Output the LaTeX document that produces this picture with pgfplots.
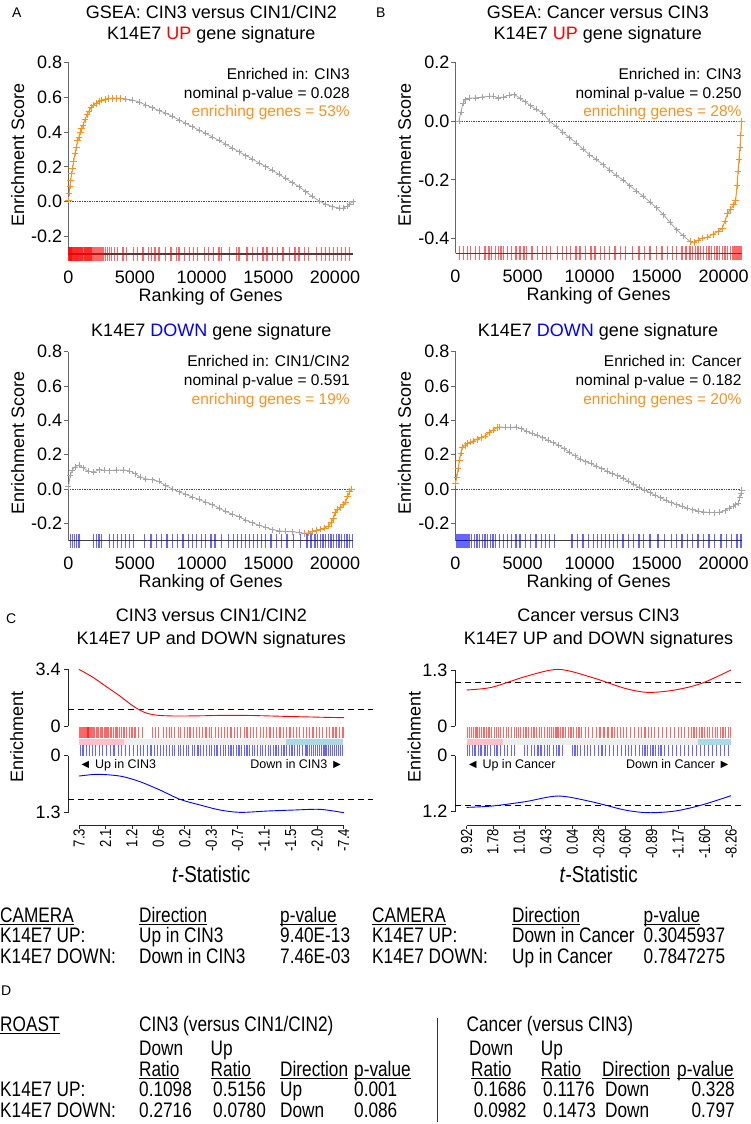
\documentclass[border=0pt]{standalone}
\usepackage{pgfplots}
\usepackage{pgfplotstable}
\pgfplotsset{compat=1.18}
\usepackage{fontspec}
\setmainfont{Liberation Sans}
\newfontfamily\narrow[FakeStretch=0.82]{Liberation Sans}
\definecolor{gsorange}{RGB}{247,147,30}
\definecolor{gsgray}{RGB}{165,165,165}
\definecolor{upred}{RGB}{255,0,0}
\definecolor{dnblue}{RGB}{0,0,255}
\definecolor{barpink}{RGB}{255,192,203}
\definecolor{barblue}{RGB}{173,216,230}
\definecolor{bargray}{RGB}{238,238,238}
\newcommand\ul[1]{\setbox0\hbox{#1}\rlap{\rule[-2.6pt]{\wd0}{0.9pt}}\box0}

% ---------- barcode positions (gene ranks) ----------
\pgfplotstableread[row sep=\\]{x\\ 0\\ 40\\ 80\\ 120\\ 160\\ 200\\ 240\\ 290\\ 330\\ 380\\ 420\\ 470\\ 520\\ 560\\ 610\\ 660\\ 700\\ 750\\ 800\\ 860\\ 910\\ 960\\ 1020\\ 1080\\ 1140\\ 1200\\ 1260\\ 1330\\ 1400\\ 1470\\ 1540\\ 1620\\ 1700\\ 1790\\ 1880\\ 1970\\ 2070\\ 2180\\ 2290\\ 2400\\ 2520\\ 2650\\ 2780\\ 2920\\ 3080\\ 3250\\ 3450\\ 3700\\ 4100\\ 4350\\ 4900\\ 5200\\ 5600\\ 6000\\ 6250\\ 6500\\ 6800\\ 7300\\ 7700\\ 8100\\ 8300\\ 8700\\ 9100\\ 9400\\ 9700\\ 10200\\ 10500\\ 10900\\ 11300\\ 11500\\ 12100\\ 12600\\ 12800\\ 13400\\ 13800\\ 14200\\ 14600\\ 14900\\ 15300\\ 15700\\ 16100\\ 16600\\ 17000\\ 17300\\ 17700\\ 18000\\ 18600\\ 19000\\ 19300\\ 19600\\ 19900\\ 20200\\ 20500\\ 20800\\ 21100\\}\barAup
\pgfplotstableread[row sep=\\]{x\\ 300\\ 600\\ 900\\ 1100\\ 1500\\ 1800\\ 2200\\ 2500\\ 2700\\ 3000\\ 3200\\ 3400\\ 3600\\ 3900\\ 4200\\ 4500\\ 4800\\ 5100\\ 5300\\ 5700\\ 6100\\ 6500\\ 6800\\ 7100\\ 7600\\ 8000\\ 8300\\ 8600\\ 9000\\ 9300\\ 9700\\ 10100\\ 10400\\ 10800\\ 11100\\ 11500\\ 11900\\ 12300\\ 12700\\ 13200\\ 13700\\ 14100\\ 14500\\ 15000\\ 15400\\ 15800\\ 16200\\ 16500\\ 16900\\ 17200\\ 17500\\ 17700\\ 17900\\ 18100\\ 18300\\ 18500\\ 18700\\ 18900\\ 19100\\ 19300\\ 19500\\ 19700\\ 19900\\ 20100\\ 20300\\ 20500\\ 20700\\ 20800\\ 20900\\ 21000\\ 21100\\ 21200\\ 21300\\}\barBup
\pgfplotstableread[row sep=\\]{x\\ 150\\ 300\\ 450\\ 600\\ 800\\ 1900\\ 2100\\ 2300\\ 2500\\ 3100\\ 3400\\ 3700\\ 4000\\ 4300\\ 4600\\ 4900\\ 5700\\ 6200\\ 6600\\ 7000\\ 7400\\ 7800\\ 8200\\ 8600\\ 9000\\ 9300\\ 9600\\ 10000\\ 10300\\ 10700\\ 11000\\ 11500\\ 12000\\ 12400\\ 12700\\ 13000\\ 13300\\ 13600\\ 13900\\ 14200\\ 14500\\ 14800\\ 15200\\ 15600\\ 16000\\ 16400\\ 16900\\ 17400\\ 17900\\ 18200\\ 18500\\ 18700\\ 18900\\ 19100\\ 19300\\ 19500\\ 19700\\ 19900\\ 20100\\ 20300\\ 20500\\ 20700\\ 20900\\ 21100\\ 21300\\}\barAdown
\pgfplotstableread[row sep=\\]{x\\ 50\\ 150\\ 250\\ 350\\ 450\\ 550\\ 700\\ 850\\ 1000\\ 1200\\ 1400\\ 1600\\ 1800\\ 2000\\ 2200\\ 2400\\ 2600\\ 2800\\ 3000\\ 3300\\ 3600\\ 3900\\ 4200\\ 4500\\ 4800\\ 5200\\ 5600\\ 6000\\ 6400\\ 6700\\ 7000\\ 7400\\ 8700\\ 9100\\ 9500\\ 9900\\ 10300\\ 10600\\ 10900\\ 11200\\ 11500\\ 11800\\ 12100\\ 12500\\ 12900\\ 13300\\ 13700\\ 14000\\ 14500\\ 15100\\ 15600\\ 16100\\ 16500\\ 16900\\ 17300\\ 17700\\ 18100\\ 18500\\ 18900\\ 19300\\ 19800\\ 20200\\ 20600\\ 21000\\ 21300\\}\barBdown
% ---------- barcode positions for panel C (t-statistic rank, 0..10) ----------
\pgfplotstableread[row sep=\\]{x\\ 0.02\\ 0.06\\ 0.1\\ 0.14\\ 0.18\\ 0.22\\ 0.26\\ 0.3\\ 0.34\\ 0.38\\ 0.42\\ 0.46\\ 0.5\\ 0.55\\ 0.6\\ 0.65\\ 0.7\\ 0.75\\ 0.8\\ 0.85\\ 0.9\\ 0.95\\ 1.0\\ 1.06\\ 1.12\\ 1.18\\ 1.24\\ 1.3\\ 1.37\\ 1.44\\ 1.52\\ 1.6\\ 1.7\\ 1.8\\ 1.9\\ 2.0\\ 2.12\\ 2.25\\ 2.4\\ 2.78\\ 2.88\\ 3.0\\ 3.2\\ 3.3\\ 3.42\\ 3.5\\ 3.62\\ 3.75\\ 3.85\\ 3.98\\ 4.1\\ 4.2\\ 4.32\\ 4.45\\ 4.55\\ 4.68\\ 4.8\\ 4.92\\ 5.02\\ 5.15\\ 5.28\\ 5.4\\ 5.5\\ 5.62\\ 5.75\\ 5.88\\ 6.0\\ 6.12\\ 6.25\\ 6.35\\ 6.48\\ 6.6\\ 6.72\\ 6.85\\ 6.98\\ 7.1\\ 7.22\\ 7.35\\ 7.48\\ 7.6\\ 7.72\\ 7.85\\ 7.98\\ 8.1\\ 8.22\\ 8.35\\ 8.48\\ 8.6\\ 8.72\\ 8.85\\ 8.98\\ 9.1\\ 9.22\\ 9.35\\ 9.48\\ 9.6\\ 9.72\\ 9.85\\ 9.98\\}\barCLup
\pgfplotstableread[row sep=\\]{x\\ 0.05\\ 0.15\\ 0.28\\ 0.4\\ 0.52\\ 0.62\\ 0.78\\ 0.9\\ 1.05\\ 1.18\\ 1.32\\ 1.48\\ 1.6\\ 1.75\\ 1.92\\ 2.05\\ 2.2\\ 2.32\\ 2.45\\ 2.6\\ 2.72\\ 2.85\\ 2.98\\ 3.08\\ 3.2\\ 3.3\\ 3.42\\ 3.52\\ 3.62\\ 3.75\\ 3.85\\ 3.95\\ 4.05\\ 4.15\\ 4.28\\ 4.38\\ 4.5\\ 4.6\\ 4.7\\ 4.82\\ 4.92\\ 5.02\\ 5.12\\ 5.22\\ 5.35\\ 5.45\\ 5.55\\ 5.65\\ 5.75\\ 5.85\\ 5.95\\ 6.05\\ 6.15\\ 6.25\\ 6.35\\ 6.45\\ 6.55\\ 6.65\\ 6.75\\ 6.85\\ 6.95\\ 7.05\\ 7.15\\ 7.25\\ 7.35\\ 7.45\\ 7.55\\ 7.65\\ 7.75\\ 7.85\\ 7.95\\ 8.05\\ 8.15\\ 8.25\\ 8.35\\ 8.45\\ 8.55\\ 8.62\\ 8.7\\ 8.78\\ 8.86\\ 8.94\\ 9.02\\ 9.1\\ 9.18\\ 9.26\\ 9.34\\ 9.42\\ 9.5\\ 9.58\\ 9.66\\ 9.74\\ 9.82\\ 9.9\\ 9.97\\}\barCLdown
\pgfplotstableread[row sep=\\]{x\\ 0.03\\ 0.1\\ 0.18\\ 0.25\\ 0.33\\ 0.4\\ 0.5\\ 0.58\\ 0.66\\ 0.75\\ 0.85\\ 0.95\\ 1.05\\ 1.12\\ 1.2\\ 1.3\\ 1.4\\ 1.5\\ 1.6\\ 1.7\\ 1.8\\ 1.88\\ 1.96\\ 2.05\\ 2.15\\ 2.25\\ 2.35\\ 2.45\\ 2.55\\ 2.65\\ 2.75\\ 2.85\\ 2.95\\ 3.05\\ 3.15\\ 3.22\\ 3.3\\ 3.38\\ 3.46\\ 3.55\\ 3.65\\ 3.75\\ 3.85\\ 3.95\\ 4.05\\ 4.15\\ 4.25\\ 4.35\\ 4.5\\ 4.62\\ 4.75\\ 4.9\\ 5.05\\ 5.2\\ 5.35\\ 5.5\\ 5.6\\ 5.7\\ 5.82\\ 5.95\\ 6.05\\ 6.2\\ 6.35\\ 6.5\\ 6.62\\ 6.75\\ 6.88\\ 7.0\\ 7.12\\ 7.25\\ 7.4\\ 7.55\\ 7.7\\ 7.85\\ 8.0\\ 8.12\\ 8.25\\ 8.38\\ 8.5\\ 8.6\\ 8.7\\ 8.8\\ 8.9\\ 9.0\\ 9.1\\ 9.2\\ 9.3\\ 9.4\\ 9.5\\ 9.6\\ 9.7\\ 9.8\\ 9.9\\ 9.97\\}\barCRup
\pgfplotstableread[row sep=\\]{x\\ 0.03\\ 0.12\\ 0.22\\ 0.32\\ 0.45\\ 0.55\\ 0.7\\ 0.8\\ 0.92\\ 1.05\\ 1.15\\ 1.3\\ 1.45\\ 1.55\\ 1.7\\ 1.82\\ 2.2\\ 2.32\\ 2.45\\ 2.58\\ 2.7\\ 2.82\\ 2.95\\ 3.05\\ 3.15\\ 3.28\\ 3.4\\ 3.5\\ 3.62\\ 4.0\\ 4.1\\ 4.2\\ 4.32\\ 4.45\\ 4.58\\ 4.7\\ 4.85\\ 5.0\\ 5.12\\ 5.25\\ 5.4\\ 5.55\\ 5.7\\ 5.85\\ 6.0\\ 6.12\\ 6.25\\ 6.4\\ 6.55\\ 6.65\\ 6.75\\ 6.85\\ 6.95\\ 7.05\\ 7.15\\ 7.25\\ 7.35\\ 7.5\\ 7.65\\ 7.8\\ 7.95\\ 8.1\\ 8.25\\ 8.4\\ 8.55\\ 8.7\\ 8.85\\ 9.0\\ 9.15\\ 9.3\\ 9.45\\ 9.6\\ 9.75\\ 9.9\\}\barCRdown

\pgfplotsset{
  gsea/.style={
    scale only axis, clip=false, enlargelimits=false, axis on top,
    axis x line=bottom, axis y line=left, separate axis lines,
    x axis line style={-, black!75, line width=1.1pt},
    y axis line style={-, black!60, line width=1pt},
    xmin=0, xmax=21350, scaled x ticks=false, scaled y ticks=false,
    xtick={0,5000,10000,15000,20000}, xticklabels={0,5000,10000,15000,20000},
    xtick style={draw=none},
    tick align=outside, major tick length=4.5pt,
    ytick style={black!60, line width=1pt},
    ticklabel style={font=\fontsize{18}{18}\selectfont},
    xticklabel style={anchor=base, inner sep=0pt, yshift=-24.5pt},
    yticklabel style={anchor=east, inner sep=0pt, xshift=-1.5pt},
    xlabel={Ranking of Genes}, ylabel={Enrichment Score},
    label style={font=\fontsize{18}{18}\selectfont, inner sep=0pt},
    xlabel style={at={(axis description cs:0.5,0)}, anchor=base, yshift=-47pt},
    ylabel style={at={(axis description cs:-0.178,0.517)}, anchor=center},
  },
  gsgrayline/.style={gsgray, line width=0.8pt, mark=+, mark size=3pt, mark options={line width=0.6pt}},
  gsorangeline/.style={gsorange, line width=1pt, mark=+, mark size=3.3pt, mark options={line width=0.7pt}},
  barup/.style={only marks, mark=|, mark size=7pt, mark options={upred, opacity=0.6, line width=1.35pt}},
  bardown/.style={only marks, mark=|, mark size=7pt, mark options={dnblue, opacity=0.6, line width=1.35pt}},
  zeroline/.style={black!70, densely dotted, line width=0.7pt},
  cenr/.style={
    scale only axis, clip=false, enlargelimits=false,
    axis y line=left, axis x line=none, xtick=\empty,
    y axis line style={-, black!85, line width=0.8pt},
    ytick style={black!85, line width=0.8pt},
    tick align=outside, major tick length=4.5pt,
    ticklabel style={font=\fontsize{18}{18}\selectfont},
    yticklabel style={anchor=east, inner sep=0pt, xshift=-3pt},
  },
  cbar/.style={
    scale only axis, clip=false, enlargelimits=false,
    axis x line=bottom, axis y line=none, ytick=\empty,
    xmin=0, xmax=10, ymin=0, ymax=98.7, width=264.5pt, height=98.7pt,
    xtick={0,1,2,3,4,5,6,7,8,9,10},
    x axis line style={-, black!85, line width=0.8pt},
    xtick style={black!85, line width=0.8pt},
    tick align=outside, major tick length=3pt,
    xticklabel style={rotate=90, anchor=east, inner sep=0pt, font=\narrow\fontsize{16}{16}\selectfont},
    xlabel={\textit{t}-Statistic},
    xlabel style={at={(axis description cs:0.5,0)}, anchor=base, inner sep=0pt, yshift=-57pt, font=\narrow\fontsize{23}{23}\selectfont},
  },
  cbarred/.style={only marks, mark=|, mark size=5.3pt, mark options={upred, opacity=0.6, line width=1.2pt}},
  cbarblue/.style={only marks, mark=|, mark size=5.5pt, mark options={dnblue, opacity=0.6, line width=1.2pt}},
  cdash/.style={black, line width=0.8pt, dash pattern=on 6pt off 4pt},
}

\begin{document}
\begin{tikzpicture}
\path[use as bounding box] (0pt,0pt) rectangle (750pt,-1124pt);

% ---------------- panel letters and titles ----------------
\begin{scope}[every node/.style={inner sep=0pt, font=\fontsize{14}{14}\selectfont}]
\node[anchor=base west] at (12pt,-18pt) {A};
\node[anchor=base west] at (376pt,-18pt) {B};
\node[anchor=base west] at (6pt,-623pt) {C};
\node[anchor=base west] at (1pt,-995pt) {D};
\end{scope}
\begin{scope}[every node/.style={inner sep=0pt, anchor=base, font=\fontsize{18}{18}\selectfont}]
\node at (211.3pt,-18.5pt) {GSEA: CIN3 versus CIN1/CIN2};
\node at (211.3pt,-39.4pt) {K14E7 \textcolor{upred}{UP} gene signature};
\node at (597.8pt,-18.5pt) {GSEA: Cancer versus CIN3};
\node at (597.8pt,-39.4pt) {K14E7 \textcolor{upred}{UP} gene signature};
\node at (211.3pt,-336.7pt) {K14E7 \textcolor{dnblue}{DOWN} gene signature};
\node at (598pt,-336.7pt) {K14E7 \textcolor{dnblue}{DOWN} gene signature};
\node at (211.3pt,-621pt) {CIN3 versus CIN1/CIN2};
\node at (211.3pt,-644.3pt) {K14E7 UP and DOWN signatures};
\node at (598.5pt,-621pt) {Cancer versus CIN3};
\node at (598.5pt,-644.3pt) {K14E7 UP and DOWN signatures};
\end{scope}
% ---------------- GSEA annotations ----------------
\begin{scope}[every node/.style={inner sep=0pt, anchor=base east, font=\fontsize{15.5}{15.5}\selectfont}]
\node at (350pt,-80pt) {Enriched in: CIN3};
\node at (350pt,-98.3pt) {nominal p-value = 0.028};
\node[text=gsorange] at (350pt,-116.7pt) {enriching genes = 53\%};
\node at (741.7pt,-80pt) {Enriched in: CIN3};
\node at (741.7pt,-98.3pt) {nominal p-value = 0.250};
\node[text=gsorange] at (741.7pt,-116.7pt) {enriching genes = 28\%};
\node at (350pt,-366pt) {Enriched in: CIN1/CIN2};
\node at (350pt,-385.7pt) {nominal p-value = 0.591};
\node[text=gsorange] at (350pt,-404.7pt) {enriching genes = 19\%};
\node at (741.7pt,-366pt) {Enriched in: Cancer};
\node at (741.7pt,-385.7pt) {nominal p-value = 0.182};
\node[text=gsorange] at (741.7pt,-404.7pt) {enriching genes = 20\%};
\end{scope}

% ================= A top =================
\begin{axis}[gsea, at={(68.3pt,-254pt)}, anchor=south west, width=284.7pt, height=191.7pt,
  ymin=-0.3, ymax=0.8, ytick={-0.2,0,0.2,0.4,0.6,0.8}, yticklabels={-0.2,0.0,0.2,0.4,0.6,0.8}]
\addplot[barup] table[x index=0, y index=0, y expr=-0.3] {\barAup};
\addplot[zeroline] coordinates {(0,0) (21350,0)};
\addplot[gsgrayline] coordinates {(3900,0.594) (4300,0.59) (4800,0.584) (5300,0.572) (5800,0.556) (6300,0.54) (6800,0.523) (7300,0.508) (7800,0.49) (8300,0.47) (8800,0.45) (9300,0.43) (9800,0.412) (10300,0.392) (10800,0.372) (11300,0.352) (11800,0.33) (12300,0.308) (12800,0.287) (13300,0.265) (13800,0.245) (14300,0.223) (14800,0.202) (15300,0.18) (15800,0.157) (16300,0.134) (16800,0.11) (17300,0.087) (17800,0.058) (18300,0.03) (18800,0.005) (19300,-0.015) (19800,-0.028) (20300,-0.036) (20600,-0.038) (20900,-0.025) (21100,-0.012) (21350,0)};
\addplot[gsorangeline] coordinates {(0,0.01) (60,0.05) (120,0.09) (180,0.12) (250,0.16) (320,0.19) (400,0.23) (500,0.28) (600,0.31) (700,0.35) (800,0.37) (900,0.40) (1000,0.42) (1100,0.44) (1250,0.47) (1400,0.50) (1550,0.52) (1700,0.54) (1900,0.555) (2100,0.565) (2300,0.575) (2500,0.583) (2750,0.588) (3000,0.592) (3300,0.594) (3600,0.594) (3900,0.594)};
\end{axis}

% ================= B top =================
\begin{axis}[gsea, at={(455.5pt,-253.3pt)}, anchor=south west, width=286.2pt, height=191pt,
  ymin=-0.45, ymax=0.2, ytick={-0.4,-0.2,0,0.2}, yticklabels={-0.4,-0.2,0.0,0.2}]
\addplot[barup] table[x index=0, y index=0, y expr=-0.45] {\barBup};
\addplot[zeroline] coordinates {(0,0) (21350,0)};
\addplot[gsgrayline] coordinates {(250,0) (400,0.03) (550,0.06) (750,0.073) (1000,0.078) (1500,0.079) (2000,0.082) (2500,0.084) (2800,0.085) (3200,0.079) (3600,0.082) (4000,0.088) (4400,0.09) (4800,0.078) (5200,0.066) (5600,0.052) (6000,0.04) (6500,0.028) (7000,0) (7500,-0.018) (8000,-0.038) (8500,-0.056) (9000,-0.074) (9500,-0.095) (10000,-0.115) (10500,-0.13) (11000,-0.148) (11500,-0.167) (12000,-0.185) (12500,-0.2) (13000,-0.22) (13500,-0.238) (14000,-0.256) (14500,-0.275) (15000,-0.295) (15500,-0.318) (16000,-0.345) (16500,-0.37) (17000,-0.39) (17500,-0.41)};
\addplot[gsorangeline] coordinates {(17500,-0.41) (17800,-0.413) (18100,-0.405) (18400,-0.398) (18800,-0.395) (19200,-0.385) (19600,-0.375) (19900,-0.365) (20100,-0.34) (20300,-0.315) (20500,-0.3) (20750,-0.285) (20900,-0.27) (21000,-0.22) (21080,-0.17) (21150,-0.13) (21220,-0.09) (21280,-0.05) (21350,0)};
\end{axis}

% ================= A bottom =================
\begin{axis}[gsea, at={(68.3pt,-540.7pt)}, anchor=south west, width=284.7pt, height=189pt,
  ymin=-0.3, ymax=0.8, ytick={-0.2,0,0.2,0.4,0.6,0.8}, yticklabels={-0.2,0.0,0.2,0.4,0.6,0.8}]
\addplot[bardown] table[x index=0, y index=0, y expr=-0.3] {\barAdown};
\addplot[zeroline] coordinates {(0,0) (21350,0)};
\addplot[gsgrayline] coordinates {(0,0.015) (150,0.08) (300,0.11) (500,0.13) (800,0.14) (1100,0.125) (1500,0.105) (1900,0.1) (2300,0.113) (2700,0.11) (3100,0.108) (3600,0.112) (4100,0.112) (4600,0.106) (5000,0.09) (5400,0.07) (5800,0.06) (6300,0.055) (6800,0.045) (7300,0.02) (7800,0.002) (8300,-0.015) (8800,-0.03) (9300,-0.045) (9800,-0.06) (10300,-0.075) (10800,-0.09) (11300,-0.11) (11800,-0.13) (12300,-0.145) (12800,-0.16) (13300,-0.18) (13800,-0.195) (14300,-0.21) (14800,-0.222) (15300,-0.235) (15800,-0.243) (16300,-0.246) (16800,-0.248) (17300,-0.252) (17700,-0.257)};
\addplot[gsorangeline] coordinates {(17700,-0.257) (18000,-0.255) (18300,-0.248) (18600,-0.24) (18900,-0.233) (19200,-0.226) (19500,-0.215) (19700,-0.195) (19900,-0.17) (20000,-0.135) (20200,-0.12) (20400,-0.108) (20600,-0.09) (20800,-0.075) (20950,-0.04) (21100,-0.015) (21250,0)};
\end{axis}

% ================= B bottom =================
\begin{axis}[gsea, at={(455.5pt,-540.7pt)}, anchor=south west, width=286.2pt, height=189pt,
  ymin=-0.3, ymax=0.8, ytick={-0.2,0,0.2,0.4,0.6,0.8}, yticklabels={-0.2,0.0,0.2,0.4,0.6,0.8}]
\addplot[bardown] table[x index=0, y index=0, y expr=-0.3] {\barBdown};
\addplot[zeroline] coordinates {(0,0) (21350,0)};
\addplot[gsgrayline] coordinates {(3300,0.362) (3700,0.36) (4100,0.36) (4500,0.362) (4900,0.352) (5300,0.337) (5700,0.325) (6100,0.315) (6500,0.3) (6900,0.285) (7300,0.27) (7700,0.255) (8100,0.235) (8500,0.215) (8900,0.195) (9300,0.175) (9700,0.16) (10100,0.15) (10500,0.135) (10900,0.12) (11300,0.105) (11700,0.09) (12100,0.078) (12500,0.066) (12900,0.045) (13300,0.028) (13700,0.01) (14100,-0.005) (14500,-0.02) (14900,-0.035) (15300,-0.05) (15700,-0.065) (16100,-0.078) (16500,-0.09) (16900,-0.1) (17300,-0.11) (17700,-0.12) (18100,-0.127) (18500,-0.132) (18900,-0.135) (19300,-0.137) (19700,-0.134) (20100,-0.125) (20400,-0.11) (20700,-0.1) (20900,-0.09) (21100,-0.08) (21200,-0.05) (21300,-0.025) (21350,-0.005)};
\addplot[gsorangeline] coordinates {(0,0.035) (100,0.07) (200,0.12) (300,0.17) (400,0.21) (500,0.245) (700,0.255) (900,0.265) (1100,0.275) (1300,0.28) (1600,0.29) (1900,0.3) (2200,0.31) (2500,0.33) (2800,0.345) (3100,0.358) (3300,0.362)};
\end{axis}

% ================= C left =================
\begin{axis}[cenr, at={(68.3pt,-726pt)}, anchor=south west, width=304.7pt, height=56.7pt,
  xmin=-0.4, xmax=11.1, ymin=0, ymax=3.4, ytick={0,3.4}, yticklabels={0,3.4}]
\addplot[cdash] coordinates {(-0.4,1.02) (11.1,1.02)};
\addplot[upred, line width=0.9pt, smooth] coordinates {(0,3.4) (0.5,2.95) (1.0,2.4) (1.5,1.85) (2.0,1.25) (2.3,0.95) (2.6,0.75) (3.0,0.64) (3.6,0.6) (4.5,0.61) (5.5,0.64) (6.5,0.63) (7.5,0.59) (8.5,0.55) (9.3,0.52) (10,0.5)};
\end{axis}
\begin{axis}[cenr, at={(68.3pt,-812.7pt)}, anchor=south west, width=304.7pt, height=57pt,
  y dir=reverse, xmin=-0.4, xmax=11.1, ymin=0, ymax=1.3, ytick={0,1.3}, yticklabels={0,1.3}]
\addplot[cdash] coordinates {(-0.4,1.0) (11.1,1.0)};
\addplot[dnblue, line width=0.9pt, smooth] coordinates {(0,0.464) (0.5,0.43) (0.8,0.426) (1.2,0.44) (1.68,0.479) (2.31,0.593) (3.06,0.783) (3.82,0.996) (4.58,1.125) (5.33,1.239) (6.09,1.292) (7.1,1.262) (8.1,1.239) (9.11,1.224) (10,1.3)};
\end{axis}
\begin{axis}[cbar, at={(79pt,-825.7pt)}, anchor=south west,
  xticklabels={7.3,2.1,1.2,0.6,0.2,-0.3,-0.7,-1.1,-1.5,-2.0,-7.4}]
\addplot[fill=barpink, draw=none] coordinates {(0,81) (1.7,81) (1.7,87) (0,87)} -- cycle;
\addplot[fill=bargray, draw=none] coordinates {(1.7,81) (7.83,81) (7.83,87) (1.7,87)} -- cycle;
\addplot[fill=barblue, draw=none] coordinates {(7.83,81) (9.97,81) (9.97,87) (7.83,87)} -- cycle;
\addplot[cbarred] table[x index=0, y index=0, y expr=93.4] {\barCLup};
\addplot[cbarblue] table[x index=0, y index=0, y expr=74.9] {\barCLdown};
\node[anchor=base west, inner sep=0pt, font=\fontsize{12.5}{12.5}\selectfont] at (axis cs:0,57.5) {◄ Up in CIN3};
\node[anchor=base east, inner sep=0pt, font=\fontsize{12.5}{12.5}\selectfont] at (axis cs:10,57.5) {Down in CIN3 ►};
\end{axis}

% ================= C right =================
\begin{axis}[cenr, at={(455pt,-726pt)}, anchor=south west, width=286.6pt, height=56pt,
  xmin=-0.435, xmax=10.4, ymin=0, ymax=1.3, ytick={0,1.3}, yticklabels={0,1.3}]
\addplot[cdash] coordinates {(-0.435,1.02) (10.4,1.02)};
\addplot[upred, line width=0.9pt, smooth] coordinates {(0,0.836) (0.95,0.898) (2.21,1.145) (3.47,1.315) (4.73,1.13) (5.99,0.874) (6.87,0.78) (7.88,0.836) (8.89,0.99) (10,1.3)};
\end{axis}
\begin{axis}[cenr, at={(455pt,-811.7pt)}, anchor=south west, width=286.6pt, height=56pt,
  y dir=reverse, xmin=-0.435, xmax=10.4, ymin=0, ymax=1.2, ytick={0,1.2}, yticklabels={0,1.2}]
\addplot[cdash] coordinates {(-0.435,1.057) (10.4,1.057)};
\addplot[dnblue, line width=0.9pt, smooth] coordinates {(0,1.107) (0.95,1.079) (2.21,0.986) (3.47,0.864) (4.73,0.986) (5.99,1.164) (6.87,1.221) (7.88,1.186) (8.89,1.057) (10,0.857)};
\end{axis}
\begin{axis}[cbar, at={(466.5pt,-825.7pt)}, anchor=south west,
  xticklabels={9.92,1.78,1.01,0.43,0.04,-0.28,-0.60,-0.89,-1.17,-1.60,-8.26}]
\addplot[fill=barpink, draw=none] coordinates {(0,81) (1.37,81) (1.37,87) (0,87)} -- cycle;
\addplot[fill=bargray, draw=none] coordinates {(1.37,81) (8.74,81) (8.74,87) (1.37,87)} -- cycle;
\addplot[fill=barblue, draw=none] coordinates {(8.74,81) (10,81) (10,87) (8.74,87)} -- cycle;
\addplot[cbarred] table[x index=0, y index=0, y expr=93.4] {\barCRup};
\addplot[cbarblue] table[x index=0, y index=0, y expr=74.9] {\barCRdown};
\node[anchor=base west, inner sep=0pt, font=\fontsize{12.5}{12.5}\selectfont] at (axis cs:0,57.5) {◄ Up in Cancer};
\node[anchor=base east, inner sep=0pt, font=\fontsize{12.5}{12.5}\selectfont] at (axis cs:10,57.5) {Down in Cancer ►};
\end{axis}

\node[rotate=90, inner sep=0pt, font=\fontsize{18}{18}\selectfont] at (16.7pt,-736.7pt) {Enrichment};
\node[rotate=90, inner sep=0pt, font=\fontsize{18}{18}\selectfont] at (414.3pt,-736.7pt) {Enrichment};

% ================= tables =================
\begin{scope}[every node/.style={inner sep=0pt, anchor=base west, font=\narrow\fontsize{21}{21}\selectfont}]
\node at (0pt,-922pt) {\ul{CAMERA}};
\node at (139pt,-922pt) {\ul{Direction}};
\node at (280pt,-922pt) {\ul{p-value}};
\node at (372pt,-922pt) {\ul{CAMERA}};
\node at (512pt,-922pt) {\ul{Direction}};
\node at (643.5pt,-922pt) {\ul{p-value}};
\node at (0pt,-942.5pt) {K14E7 UP:};
\node at (139pt,-942.5pt) {Up in CIN3};
\node at (280pt,-942.5pt) {9.40E-13};
\node at (372pt,-942.5pt) {K14E7 UP:};
\node at (512pt,-942.5pt) {Down in Cancer};
\node at (643.5pt,-942.5pt) {0.3045937};
\node at (0pt,-963pt) {K14E7 DOWN:};
\node at (139pt,-963pt) {Down in CIN3};
\node at (280pt,-963pt) {7.46E-03};
\node at (372pt,-963pt) {K14E7 DOWN:};
\node at (512pt,-963pt) {Up in Cancer};
\node at (643.5pt,-963pt) {0.7847275};
% ROAST
\node at (0pt,-1031pt) {\ul{ROAST}};
\node at (139pt,-1031pt) {CIN3 (versus CIN1/CIN2)};
\node at (466.5pt,-1031pt) {Cancer (versus CIN3)};
\node at (139pt,-1055.5pt) {Down};
\node at (210.5pt,-1055.5pt) {Up};
\node at (469pt,-1055.5pt) {Down};
\node at (540.7pt,-1055.5pt) {Up};
\node at (139pt,-1076pt) {\ul{Ratio}};
\node at (210.5pt,-1076pt) {\ul{Ratio}};
\node at (280pt,-1076pt) {\ul{Direction}};
\node at (354pt,-1076pt) {\ul{p-value}};
\node at (471pt,-1076pt) {\ul{Ratio}};
\node at (540.7pt,-1076pt) {\ul{Ratio}};
\node at (602pt,-1076pt) {\ul{Direction}};
\node at (677pt,-1076pt) {\ul{p-value}};
\node at (0pt,-1096.5pt) {K14E7 UP:};
\node at (139pt,-1096.5pt) {0.1098};
\node at (213pt,-1096.5pt) {0.5156};
\node at (280pt,-1096.5pt) {Up};
\node at (354pt,-1096.5pt) {0.001};
\node at (473.7pt,-1096.5pt) {0.1686};
\node at (543pt,-1096.5pt) {0.1176};
\node at (605pt,-1096.5pt) {Down};
\node at (691.4pt,-1096.5pt) {0.328};
\node at (0pt,-1117pt) {K14E7 DOWN:};
\node at (139pt,-1117pt) {0.2716};
\node at (213pt,-1117pt) {0.0780};
\node at (280pt,-1117pt) {Down};
\node at (354pt,-1117pt) {0.086};
\node at (473.7pt,-1117pt) {0.0982};
\node at (543pt,-1117pt) {0.1473};
\node at (605pt,-1117pt) {Down};
\node at (691.4pt,-1117pt) {0.797};
\end{scope}
\draw[black!80, line width=0.8pt] (437.8pt,-1018pt) -- (437.8pt,-1122pt);
\end{tikzpicture}
\end{document}
